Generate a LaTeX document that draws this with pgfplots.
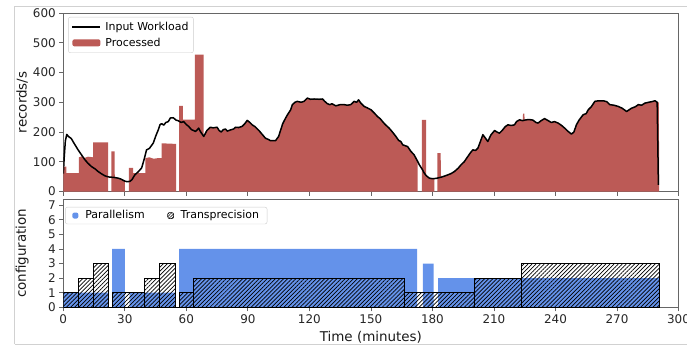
\documentclass[border=0pt]{standalone}
\usepackage{fontspec}
\setmainfont{DejaVu Sans}
\usepackage{pgfplots}
\pgfplotsset{compat=1.18}
\usetikzlibrary{patterns.meta}
\definecolor{procred}{RGB}{188,90,86}
\definecolor{parblue}{RGB}{100,146,234}
\begin{document}
\begin{tikzpicture}
\useasboundingbox (0,0) rectangle (687bp,-345bp);
\draw[black!18, line width=0.8bp] (14.5bp,-344bp) -- (14.5bp,-6.5bp) -- (700bp,-6.5bp);
\draw[black!18, line width=0.8bp] (14.5bp,-344bp) -- (700bp,-344bp);
\pgfplotsset{
  common/.style={
    scale only axis, width=615.2bp, xmin=0, xmax=300, xtick={0,30,...,300},
    tick align=outside, tick pos=left, major tick length=4bp,
    axis line style={black!60}, major tick style={black!60, line width=0.8bp},
    tick label style={font=\fontsize{12}{14}\selectfont, text=black!85},
    label style={font=\fontsize{13.5}{16}\selectfont, text=black!90},
    /pgf/number format/assume math mode=true,
  }
}
\begin{axis}[common, at={(63.3bp,-13bp)}, anchor=north west, height=178.5bp,
  ymin=0, ymax=600, ytick={0,100,...,600}, xticklabels={},
  ylabel={records/s}, ylabel style={at={(axis description cs:-0.067,0.5)}, anchor=center},
  legend style={at={(axis description cs:0.008,0.978)}, anchor=north west, draw=black!20,
    rounded corners=2bp, font=\fontsize{11}{13}\selectfont, inner xsep=3bp, inner ysep=3bp,
    row sep=2bp, fill=white},
  legend cell align=left]
\addplot[fill=procred, draw=none, forget plot] coordinates {
(0,0) (0,84) (1.5,84) (1.5,62) (7.6,62) (7.6,115) (9,118) (10.5,113) (12,117) (14.5,115)
(14.5,165) (21.9,165) (21.9,0) (23.5,0) (23.5,135) (25,135) (25.1,47) (26.7,45) (28,42) (30,35)
(30,0) (32,0) (32,79) (34,79) (34,62) (40,62) (40,112) (42,115) (44,110) (46,112) (48,112)
(48,162) (55,160) (55,0) (56.5,0) (56.5,288) (58.3,288) (58.3,242) (64.2,242) (64.2,460)
(68.4,460) (68.4,186)
(70,205) (71.7,216) (73,214) (75,216) (76,205) (77,200) (78,208) (79.1,210) (80,203) (81.5,207)
(83,210) (84,216) (85.5,215) (87.2,219) (88.5,228) (89.7,239) (91,232) (92.1,224) (93.5,218)
(95.4,205) (97,192) (98.6,179) (100,175) (101,171) (103.5,171) (105,185) (106,207) (107,228)
(108.4,247) (109.5,260) (110.9,275) (111.7,292) (113,300) (114.1,303) (116,300) (117.4,303)
(119,314) (120.5,310) (122.3,311) (124.7,310) (126.4,311) (127.5,303) (128.8,295) (130,292)
(131,295) (132.9,288) (135,292) (136.9,292) (138.5,290) (140.2,292) (141.8,303) (143,300)
(144,308) (145,298) (146.7,286) (148,282) (150,275) (151.5,265) (153.2,252) (154.5,245)
(155.7,235) (157,225) (158.9,213) (160.5,200) (162.2,185) (163.5,172) (164.6,168) (165.5,157)
(167.9,151) (169.5,135) (171.1,123) (172.5,105) (172.8,100) (172.8,0) (174.9,0) (174.9,241)
(176.9,241) (176.9,55) (178.5,45) (180,43) (181,44) (181,0) (182.4,0) (182.4,129) (184,129)
(184.2,48) (186,52) (187.5,56) (189,60) (190.7,67) (192.5,78) (194,90) (195.5,100) (197.3,118)
(198.5,130) (199.7,140) (201,138) (202.2,146) (203.5,170) (204.6,191) (205.8,180) (207,168)
(208.5,190) (210.3,205) (211.5,200) (212.7,196) (214,205) (215.5,218) (216.8,224) (218.5,222)
(220,224) (221,235) (222.5,241) (224,238) (224.2,262) (224.8,262) (225,240) (227,242) (229,240)
(230.5,232) (231.5,230) (233,238) (234.7,245) (236,240) (238,232) (239.5,235) (241.3,230)
(243,222) (244.5,213) (246,203) (247.8,193) (249,200) (250.2,224) (251.5,240) (253.5,258)
(255,262) (256,275) (257.5,285) (259.2,303) (261,305) (263.3,305) (265,302) (266.5,292)
(268.5,290) (270.6,286) (272.5,280) (274.7,269) (276,275) (277.1,280) (279,285) (280.4,292)
(282,290) (283.6,297) (285.5,300) (287,302) (288.5,305) (289.6,300) (290.4,300) (290.6,0)
} \closedcycle;
\addplot[black, line width=1.5bp, line join=round,
  legend image code/.code={\path[draw=none,fill=none] (0bp,0bp) rectangle (32bp,0.1bp); \draw[black, line width=1.5bp] (1bp,0bp) -- (29bp,0bp);}] coordinates {
(0,60) (0.5,120) (1,170) (1.7,192) (2.5,185) (3.9,178) (5,165) (7.2,140) (9,122) (10.5,107)
(12,95) (13.7,84) (15.5,76) (17,67) (18.5,60) (20.2,53) (22,49) (23.5,48) (25,47) (26.7,45)
(28,42) (30,35) (31,33) (32.5,34) (33.5,40) (34.9,56) (36.5,66) (38.2,79) (39.5,110) (40.6,140)
(42,145) (43.9,163) (45,185) (46.3,207) (47.2,225) (48,228) (49,223) (50,232) (51.2,235)
(52.2,247) (53.6,248) (55,240) (56,238) (57.5,232) (58.7,235) (60,225) (61.1,219) (62.5,208)
(63.5,205) (64.4,202) (65,205) (66,213) (67,200) (68.5,185) (70,205) (71.7,216) (73,214)
(75,216) (76,205) (77,200) (78,208) (79.1,210) (80,203) (81.5,207) (83,210) (84,216) (85.5,215)
(87.2,219) (88.5,228) (89.7,239) (91,232) (92.1,224) (93.5,218) (95.4,205) (97,192) (98.6,179)
(100,175) (101,171) (103.5,171) (105,185) (106,207) (107,228) (108.4,247) (109.5,260)
(110.9,275) (111.7,292) (113,300) (114.1,303) (116,300) (117.4,303) (119,314) (120.5,310)
(122.3,311) (124.7,310) (126.4,311) (127.5,303) (128.8,295) (130,292) (131,295) (132.9,288)
(135,292) (136.9,292) (138.5,290) (140.2,292) (141.8,303) (143,300) (144,308) (145,298)
(146.7,286) (148,282) (150,275) (151.5,265) (153.2,252) (154.5,245) (155.7,235) (157,225)
(158.9,213) (160.5,200) (162.2,185) (163.5,172) (164.6,168) (165.5,157) (167.9,151) (169.5,135)
(171.1,123) (172.5,105) (173.6,90) (175,75) (176,62) (177,53) (178.5,45) (180,43) (181.8,44)
(183,46) (184.2,48) (186,52) (187.5,56) (189,60) (190.7,67) (192.5,78) (194,90) (195.5,100)
(197.3,118) (198.5,130) (199.7,140) (201,138) (202.2,146) (203.5,170) (204.6,191) (205.8,180)
(207,168) (208.5,190) (210.3,205) (211.5,200) (212.7,196) (214,205) (215.5,218) (216.8,224)
(218.5,222) (220,224) (221,235) (222.5,241) (224,238) (225,240) (227,242) (229,240) (230.5,232)
(231.5,230) (233,238) (234.7,245) (236,240) (238,232) (239.5,235) (241.3,230) (243,222)
(244.5,213) (246,203) (247.8,193) (249,200) (250.2,224) (251.5,240) (253.5,258) (255,262)
(256,275) (257.5,285) (259.2,303) (261,305) (263.3,305) (265,302) (266.5,292) (268.5,290)
(270.6,286) (272.5,280) (274.7,269) (276,275) (277.1,280) (279,285) (280.4,292) (282,290)
(283.6,297) (285.5,300) (287,302) (288.5,305) (289.6,300) (290.2,22)
};
\addlegendentry{Input Workload}
\addlegendimage{legend image code/.code={\path[draw=none,fill=none] (0bp,0bp) rectangle (32bp,0.1bp); \fill[procred, draw=none] (1bp,-3.5bp) rectangle (29bp,3.5bp);}}
\addlegendentry{Processed}
\end{axis}
\begin{axis}[common, at={(63.3bp,-199.3bp)}, anchor=north west, height=108bp,
  ymin=0, ymax=7.4, ytick={0,1,...,7},
  xlabel={Time (minutes)}, xlabel style={at={(axis description cs:0.5,-0.275)}, anchor=center},
  ylabel={configuration}, ylabel style={at={(axis description cs:-0.067,0.5)}, anchor=center},
  legend columns=2,
  legend style={at={(axis description cs:0.003,0.929)}, anchor=north west, draw=black!20,
    rounded corners=2bp, font=\fontsize{11}{13}\selectfont, inner xsep=6bp, inner ysep=1.5bp,
    fill=white, /tikz/every even column/.append style={column sep=20bp}},
  legend cell align=left]
\addplot[fill=parblue, draw=none,
  legend image code/.code={\path[draw=none,fill=none] (0bp,0bp) rectangle (12bp,0.1bp); \fill[parblue, draw=none] (1bp,-3bp) rectangle (7bp,3bp);}] coordinates {
(0,0) (0,1) (22.2,1) (22.2,0) (23.8,0) (23.8,4) (30,4) (30,0) (32.4,0) (32.4,1) (54.5,1)
(54.5,0) (56.5,0) (56.5,4) (172.5,4) (172.5,0) (175.3,0) (175.3,3) (180.6,3) (180.6,0)
(182.8,0) (182.8,2) (290.6,2) (290.6,0)
} \closedcycle;
\addlegendentry{Parallelism}
\addplot[draw=black, line width=0.9bp, line join=miter,
  pattern={Lines[angle=45,distance=2.9bp,line width=0.7bp]}, pattern color=black,
  legend image code/.code={\path[draw=none,fill=none] (0bp,0bp) rectangle (12bp,0.1bp); \draw[black, line width=0.6bp, pattern={Lines[angle=45,distance=2bp,line width=0.5bp]}] (1bp,-3bp) rectangle (7bp,3bp);}] coordinates {
(0,0) (0,1) (7.2,1) (7.2,0) (7.2,2) (14.5,2) (14.5,0) (14.5,3) (22.2,3) (22.2,0) (23.8,0)
(23.8,1) (39.5,1) (39.5,0) (39.5,2) (46.8,2) (46.8,0) (46.8,3) (54.5,3) (54.5,0) (56.5,0)
(56.5,1) (63.4,1) (63.4,0) (63.4,2) (166.5,2) (166.5,0) (166.5,1) (200.5,1) (200.5,0)
(200.5,2) (223.5,2) (223.5,0) (223.5,3) (290.6,3) (290.6,0)
} \closedcycle;
\addlegendentry{Transprecision}
\end{axis}
\end{tikzpicture}
\end{document}
